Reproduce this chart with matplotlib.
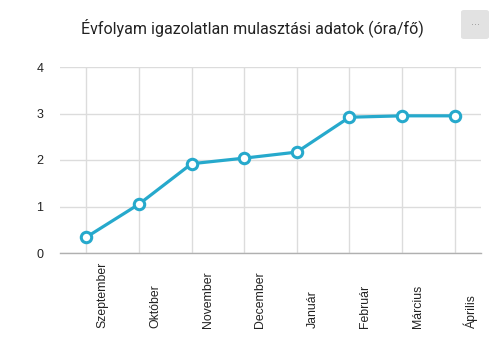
import matplotlib
matplotlib.use('Agg')
import matplotlib.pyplot as plt
import matplotlib.transforms as mtransforms
from matplotlib.patches import FancyBboxPatch

months = ['Szeptember', 'Október', 'November', 'December',
          'Január', 'Február', 'Március', 'Április']
values = [0.34, 1.05, 1.92, 2.04, 2.17, 2.92, 2.95, 2.95]
yticks = [0, 1, 2, 3, 4]

line_color = '#26a9cc'
grid_color = '#dcdcdc'

fig = plt.figure(figsize=(5.03, 3.49), dpi=100)
ax = fig.add_axes([60/503, 1 - 253/349, (481 - 60)/503, (253 - 67)/349])

x = list(range(len(months)))
ax.plot(x, values, color=line_color, linewidth=2.3, marker='o', markersize=7.5,
        markerfacecolor='white', markeredgecolor=line_color, markeredgewidth=2.2,
        zorder=3, clip_on=False)

ax.set_xlim(-0.5, len(months) - 0.5)
ax.set_ylim(0, 4)
ax.set_yticks(yticks)
ax.set_yticklabels([str(t) for t in yticks], fontsize=9, family='Liberation Sans', color='#222222')
ax.set_xticks(x)
ax.set_xticklabels([])
ax.tick_params(axis='both', length=0)
ax.tick_params(axis='y', pad=12)

ax.grid(True, color=grid_color, linewidth=1.0)
ax.set_axisbelow(True)
for side in ['left', 'right', 'top']:
    ax.spines[side].set_visible(False)
ax.spines['bottom'].set_color('#b0b0b0')
ax.spines['bottom'].set_linewidth(1.0)

# month names, rotated and anchored at their bottom end
trans = mtransforms.blended_transform_factory(ax.transData, ax.transAxes)
trans = mtransforms.offset_copy(trans, fig=fig, x=16, y=0, units='dots')
for xi, name in zip(x, months):
    ax.text(xi, -0.405, name, rotation=90, ha='center', va='bottom',
            fontsize=8.8, family='Liberation Sans', color='#222222', transform=trans)

fig.text(252/503, 1 - 28/349, 'Évfolyam igazolatlan mulasztási adatok (óra/fő)',
         ha='center', va='center', fontsize=11.5, family='Roboto', color='#222222')

# menu button in the corner
btn = FancyBboxPatch((461/503, 1 - 39/349), 28/503, 29/349,
                     boxstyle='round,pad=0,rounding_size=0.006',
                     transform=fig.transFigure, facecolor='#e2e2e2', edgecolor='none')
fig.patches.append(btn)
fig.text(475/503, 1 - 25/349, '···', ha='center', va='center', fontsize=7, color='#999999')

fig.savefig('out.png', dpi=100)
